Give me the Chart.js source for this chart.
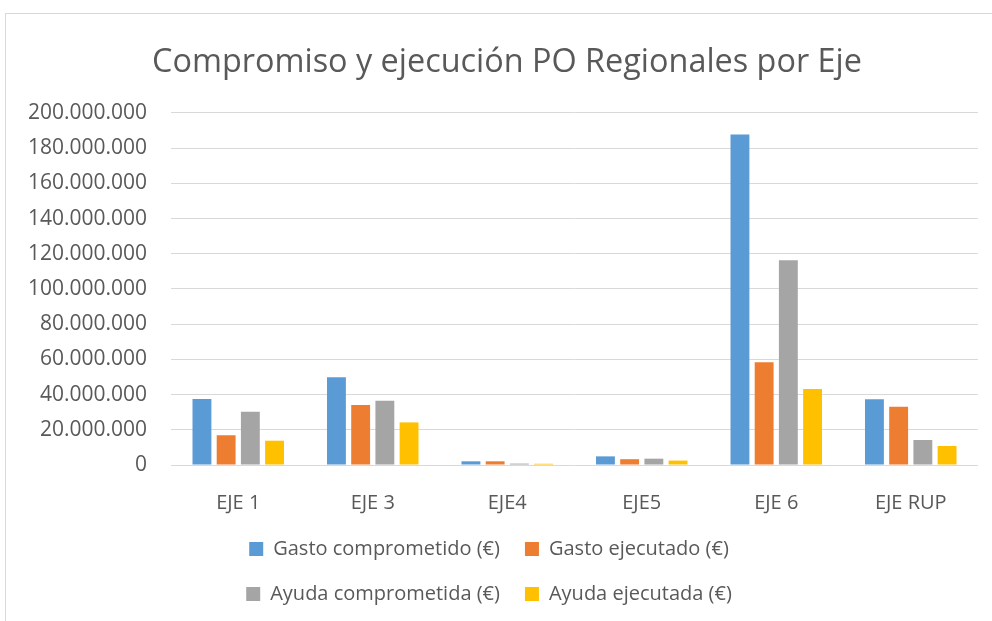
<!DOCTYPE html>
<html>
<head>
<meta charset="utf-8">
<script src="https://cdn.jsdelivr.net/npm/chart.js@4"></script>
<style>
  body { margin: 0; background: #fff; overflow: hidden; }
  #wrap {
    position: absolute; left: 5px; top: 13px;
    width: 1000px; height: 615px;
    border: 1px solid #d9d9d9;
  }
</style>
</head>
<body>
<div id="wrap"><canvas id="chart"></canvas></div>
<script>
const categories = ['EJE 1', 'EJE 3', 'EJE4', 'EJE5', 'EJE 6', 'EJE RUP'];
const gastoComprometido = [37500000, 49800000, 2100000, 4900000, 187700000, 37300000];
const gastoEjecutado = [16900000, 34100000, 2100000, 3300000, 58300000, 33100000];
const ayudaComprometida = [30300000, 36500000, 800000, 3600000, 116300000, 14200000];
const ayudaEjecutada = [13800000, 24200000, 700000, 2500000, 43200000, 10800000];
const yMax = 200000000;
const yStep = 20000000;

const textColor = '#595959';
const font = 'Open Sans';

// legend in two rows and title a bit to the right, like the original
const layoutFix = {
    id: 'layoutFix',
    afterInit(chart) {
        const lg = chart.legend;
        const upd = lg.update.bind(lg);
        lg.update = function (w, h, m) { return upd(Math.min(w, 620), h, m); };
    },
    beforeDraw(chart) {
        const lg = chart.legend;
        lg.left = 483 - 310;
        lg.right = 483 + 310;
        lg.width = 620;
        const t = chart.titleBlock;
        t.left = 30;
        t.right = 972;
        t.width = 942;
    }
};

function fmt(v) {
    return String(v).replace(/\B(?=(\d{3})+(?!\d))/g, '.');
}

drawChart();

function drawChart() {
    const ctx = document.getElementById('chart');

    new Chart(ctx, {
        type: 'bar',
        data: {
            labels: categories,
            datasets: [
                { label: 'Gasto comprometido (€)', data: gastoComprometido, backgroundColor: '#5B9BD5' },
                { label: 'Gasto ejecutado (€)', data: gastoEjecutado, backgroundColor: '#ED7D31' },
                { label: 'Ayuda comprometida (€)', data: ayudaComprometida, backgroundColor: '#A5A5A5' },
                { label: 'Ayuda ejecutada (€)', data: ayudaEjecutada, backgroundColor: '#FFC000' }
            ]
        },
        plugins: [layoutFix],
        options: {
            responsive: true,
            maintainAspectRatio: false,
            animation: false,
            categoryPercentage: 0.72,
            barPercentage: 0.78,
            layout: { padding: { left: 10, right: 28, top: 0, bottom: 15 } },
            plugins: {
                title: {
                    display: true,
                    text: 'Compromiso y ejecución PO Regionales por Eje',
                    color: textColor,
                    font: { family: font, size: 32.4, weight: 'normal' },
                    padding: { top: 29.5, bottom: 30.5 }
                },
                legend: {
                    position: 'bottom',
                    labels: {
                        color: textColor,
                        font: { family: font, size: 20 },
                        boxWidth: 14,
                        boxHeight: 14,
                        padding: 25
                    }
                },
                tooltip: { enabled: false }
            },
            scales: {
                x: {
                    grid: { display: false },
                    border: { display: false },
                    ticks: { color: textColor, font: { family: font, size: 20 }, padding: 18 },
                    afterFit(scale) { scale.height = 49; }
                },
                y: {
                    min: 0,
                    max: yMax,
                    grid: { color: '#d9d9d9', drawTicks: false },
                    border: { display: false },
                    ticks: {
                        stepSize: yStep,
                        autoSkip: false,
                        color: textColor,
                        font: { family: font, size: 21 },
                        padding: 24,
                        callback: v => fmt(v)
                    },
                    afterFit(scale) { scale.width = 155; }
                }
            }
        }
    });
}
</script>
</body>
</html>
